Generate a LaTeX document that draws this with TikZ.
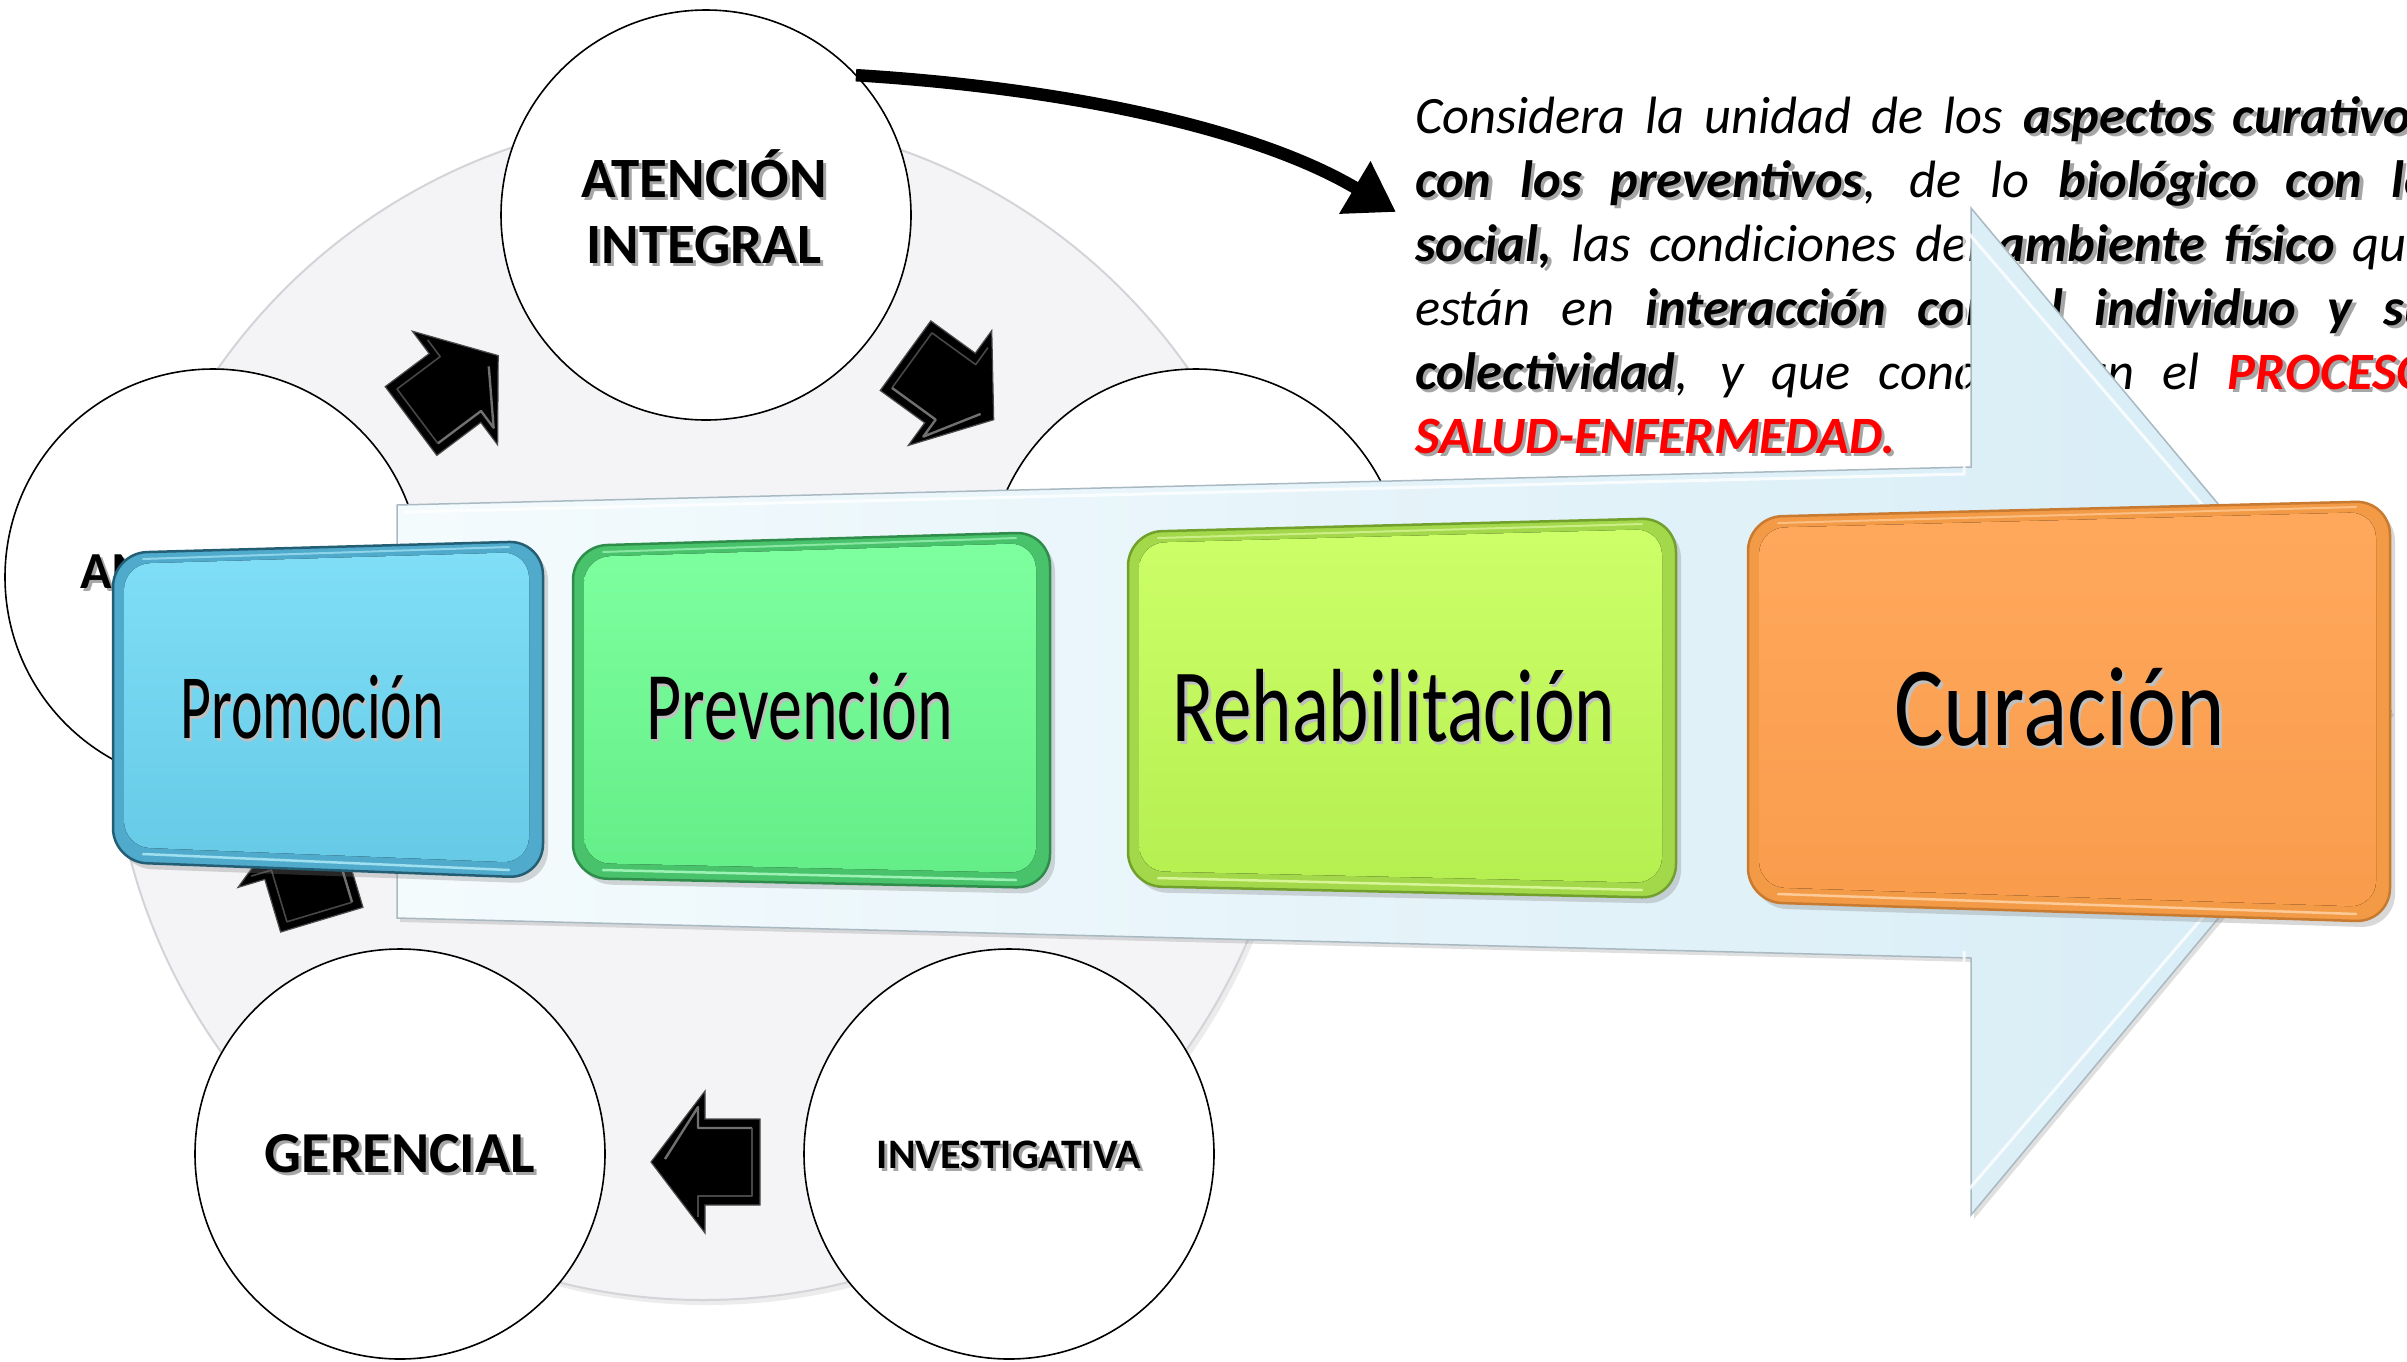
\documentclass[tikz,border=0pt]{standalone}
\usepackage{fontspec}
\setmainfont{Carlito}
\usepackage{graphicx}
\usetikzlibrary{arrows.meta,shadows}

\definecolor{discfill}{HTML}{F4F4F6}
\definecolor{discedge}{HTML}{D4D4D8}
\definecolor{bandL}{HTML}{F4FBFD}
\definecolor{bandR}{HTML}{D6ECF6}
\definecolor{bandedge}{HTML}{A9B9C2}
\definecolor{prorim}{HTML}{4FAACB}
\definecolor{prodark}{HTML}{245E74}
\definecolor{protop}{HTML}{80DEF7}
\definecolor{probot}{HTML}{66CAE6}
\definecolor{prohi}{HTML}{A8E6F5}
\definecolor{prvrim}{HTML}{48C36B}
\definecolor{prvdark}{HTML}{2F8C4B}
\definecolor{prvtop}{HTML}{7EFF9F}
\definecolor{prvbot}{HTML}{64EE88}
\definecolor{prvhi}{HTML}{A6F7BC}
\definecolor{rehrim}{HTML}{A2D84A}
\definecolor{rehdark}{HTML}{72A02C}
\definecolor{rehtop}{HTML}{CDFF68}
\definecolor{rehbot}{HTML}{B5EF50}
\definecolor{rehhi}{HTML}{DDF9A0}
\definecolor{currim}{HTML}{F29A45}
\definecolor{curdark}{HTML}{C77A30}
\definecolor{curtop}{HTML}{FFA85C}
\definecolor{curbot}{HTML}{F99C4C}
\definecolor{curhi}{HTML}{FFD0A0}

\newcommand\shtxt[2][black!35]{\leavevmode\rlap{\kern3pt\raisebox{-3pt}{\textcolor{#1}{#2}}}#2}

% paragraph helpers
\def\pwc{black}\def\bwc{black}\def\rwc{red}
\newcommand\pw[1]{{\color{\pwc}#1}}
\newcommand\bw[1]{{\color{\bwc}\bfseries #1}}
\newcommand\rw[1]{{\color{\rwc}\bfseries #1}}
\newcommand\pline[1]{\hbox to 1017pt{#1}}
\newcommand\paracontent{%
\vtop{\fontsize{52.5}{64}\selectfont\itshape\baselineskip=64pt
\pline{\pw{Considera la unidad de los} \bw{aspectos curativos}}
\pline{\bw{con los preventivos}\pw{, de lo} \bw{biológico con lo}}
\pline{\bw{social,} \pw{las condiciones del} \bw{ambiente físico} \pw{que}}
\pline{\pw{están en} \bw{interacción con el individuo y su}}
\pline{\bw{colectividad}\pw{, y que condicionan el} \rw{PROCESO}}
\hbox{\rw{SALUD-ENFERMEDAD.}}}}

% block arrow: x, y (head base), angle
\newcommand\blockarr[3]{%
\begin{scope}[shift={(#1,#2)},rotate=#3]
\filldraw[fill=black, draw=black!70, line width=1.2, line join=miter]
 (-55,-43) -- (0,-43) -- (0,-71) -- (54,0) -- (0,71) -- (0,43) -- (-55,43) -- cycle;
\draw[white!55!black, line width=2.4, line join=round, opacity=.8]
 (-47,34) -- (7,34) -- (7,55) -- (40,3);
\draw[white!35!black, line width=1.6, line join=round, opacity=.8]
 (-47,34) -- (-47,-34) -- (7,-34) -- (7,-55);
\end{scope}}

% stage box: L, R, top-left y, top-right y, bottom-left y, bottom-right y, colour prefix
\newcommand\stage[7]{%
\draw[rounded corners=34, fill=#7rim, draw=#7dark, line width=2.5,
  drop shadow={shadow xshift=5pt, shadow yshift=-6pt, opacity=.3}]
  (#1,#3) -- (#2,#4) -- (#2,#6) -- (#1,#5) -- cycle;
\fill[rounded corners=26, top color=#7top, bottom color=#7bot]
  ({#1+11},{#3+11}) -- ({#2-14},{#4+11}) -- ({#2-14},{#6-15}) -- ({#1+11},{#5-15}) -- cycle;
\draw[#7hi, line width=2.5, line cap=round, opacity=.9]
  ({#1+30},{#5-8}) -- ({#2-34},{#6-8});
\draw[#7hi, line width=2, line cap=round, opacity=.7]
  ({#1+30},{#3+6}) -- ({#2-34},{#4+6});
}

\begin{document}
\begin{tikzpicture}[x=1pt,y=-1pt,
  ringnode/.style={circle, draw=black, line width=1.6, fill=white, inner sep=0, outer sep=0},
  rolelbl/.style={inner sep=0, outer sep=0, anchor=base, font=\bfseries},
  stagelbl/.style={inner sep=0, outer sep=0, anchor=base},
  paranode/.style={anchor=base west, inner sep=0, outer sep=0},
]
\useasboundingbox (0,0) rectangle (2407,1361);
\fill[white] (0,0) rectangle (2407,1361);

% background disc
\node[circle, minimum size=1184, fill=discfill, draw=discedge, line width=2, inner sep=0,
  drop shadow={shadow xshift=4pt, shadow yshift=-5pt, opacity=.15}] (disc) at (703,708) {};

% role circles
\node[ringnode, minimum size=410] (atencion) at (706,215) {};
\node[ringnode, minimum size=416] (leftrole) at (213,577) {};
\node[ringnode, minimum size=416] (rightrole) at (1196,577) {};
\node[ringnode, minimum size=410] (gerencial) at (400,1154) {};
\node[ringnode, minimum size=410] (invest) at (1009,1154) {};

\node[rolelbl] (atA) at (704,197) {\fontsize{57}{57}\selectfont\shtxt{ATENCIÓN}};
\node[rolelbl] (atB) at (704,263) {\fontsize{57}{57}\selectfont\shtxt{INTEGRAL}};
\node[rolelbl, anchor=base west] (amlbl) at (80,588) {\fontsize{52}{52}\selectfont\shtxt{AM}};
\node[rolelbl] (gerlbl) at (400,1172) {\fontsize{58}{58}\selectfont\shtxt{GERENCIAL}};
\node[rolelbl] (invlbl) at (1009,1168) {\fontsize{42}{42}\selectfont\shtxt{INVESTIGATIVA}};

% block arrows between the circles
\blockarr{455}{388}{36.9}
\blockarr{950}{388}{-36}
\blockarr{705}{1162}{180}
\blockarr{306}{867}{106.7}

% curved arrow to the text
\coordinate (ctip) at (1396,212);
\draw[line width=12.5, -{Triangle[length=48pt,width=58pt]}]
  (atencion.43) .. controls (1065,88) and (1255,128) .. (ctip);

% paragraph (shadow copy, then text)
\begin{scope}
\def\pwc{white}\def\bwc{black!35}\def\rwc{black!35}
\node[paranode] (parashadow) at (1418.5,136.5) {\paracontent};
\end{scope}
\node[paranode] (para) at (1415,133) {\paracontent};

% big light-blue arrow band
\path[draw=bandedge, line width=1.5, left color=bandL, right color=bandR,
  drop shadow={shadow xshift=3pt, shadow yshift=-4pt, opacity=.25}]
  (397,505) -- (1971,467) -- (1971,208) -- (2391,711) -- (1971,1215)
  -- (1971,958) -- (397,918) -- cycle;
\draw[white, line width=3, opacity=.8]
  (404,512) -- (1964,474) -- (1964,228) -- (2380,711) -- (1964,1195) -- (1964,951);

% stage boxes
\stage{113}{543}{553}{541}{862}{878}{pro}
\stage{573}{1050}{546}{532}{878}{888}{prv}
\stage{1128}{1676}{532}{518}{886}{898}{reh}
\stage{1748}{2390}{517}{501}{902}{922}{cur}

\node[stagelbl] (promo) at (312,738) {\scalebox{0.65}[1]{\fontsize{92}{92}\selectfont\shtxt[black!25]{Promoción}}};
\node[stagelbl] (preven) at (800,739) {\scalebox{0.70}[1]{\fontsize{97}{97}\selectfont\shtxt[black!25]{Prevención}}};
\node[stagelbl] (rehab) at (1394,741) {\scalebox{0.74}[1]{\fontsize{104}{104}\selectfont\shtxt[black!25]{Rehabilitación}}};
\node[stagelbl] (curac) at (2060,745) {\scalebox{0.82}[1]{\fontsize{113}{113}\selectfont\shtxt[black!25]{Curación}}};
\end{tikzpicture}
\end{document}
